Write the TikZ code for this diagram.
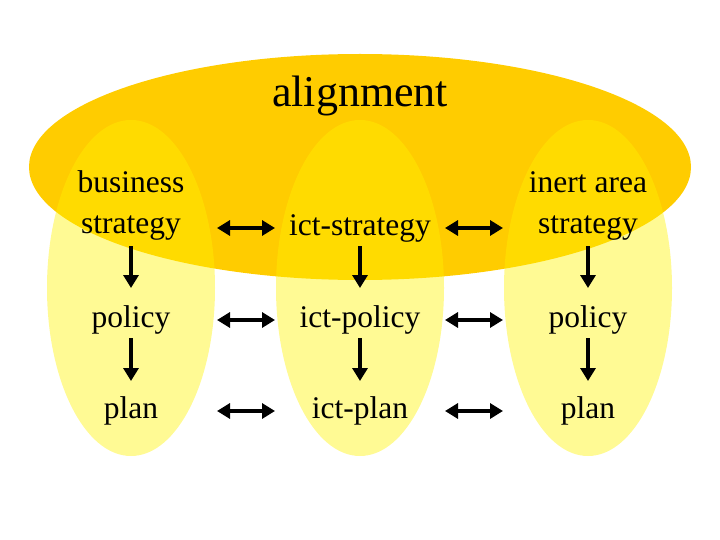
\documentclass[tikz,border=0pt]{standalone}
\usepackage{fontspec}
\setmainfont{Liberation Serif}
\usetikzlibrary{arrows.meta}
\begin{document}
\begin{tikzpicture}[x=1pt,y=-1pt,
  lbl/.style={font=\fontsize{31.5}{36}\selectfont, align=center, inner sep=0pt},
  col/.style={fill=yellow, fill opacity=0.42, draw=none},
  va/.style={line width=3.5pt, -{Triangle[length=13pt,width=15pt]}},
  ha/.style={line width=3.5pt, {Triangle[length=13pt,width=15pt]}-{Triangle[length=13pt,width=15pt]}}]
\useasboundingbox (0,0) rectangle (720,540);
\fill[fill={rgb,255:red,255;green,204;blue,0}] (360,167) ellipse [x radius=331, y radius=113];
\fill[col] (131,288) ellipse [x radius=84, y radius=168];
\fill[col] (360,288) ellipse [x radius=84, y radius=168];
\fill[col] (588,288) ellipse [x radius=84, y radius=168];
\node[lbl, font=\fontsize{44}{50}\selectfont] (al) at (360,96) {alignment};
\node[lbl] (bs1) at (131,182) {business};
\node[lbl] (bs) at (131,228) {strategy};
\node[lbl] (is) at (360,228) {ict-strategy};
\node[lbl] (ia1) at (588,182) {inert area};
\node[lbl] (ia) at (588,228) {strategy};
\node[lbl] (p1) at (131,320) {policy};
\node[lbl] (p2) at (360,320) {ict-policy};
\node[lbl] (p3) at (588,320) {policy};
\node[lbl] (l1) at (131,411) {plan};
\node[lbl] (l2) at (360,411) {ict-plan};
\node[lbl] (l3) at (588,411) {plan};
\foreach \a/\b/\x in {bs/p1/131,is/p2/360,ia/p3/588}{
  \draw[va] (\a.center |- 0,246) -- (\b.center |- 0,288);
}
\foreach \a/\b/\x in {p1/l1/131,p2/l2/360,p3/l3/588}{
  \draw[va] (\a.center |- 0,338) -- (\b.center |- 0,381);
}
\foreach \y in {228,320,411}{
  \coordinate (h1) at (217,\y); \coordinate (h2) at (275,\y);
  \coordinate (h3) at (445,\y); \coordinate (h4) at (503,\y);
  \draw[ha] (h1) -- (h2);
  \draw[ha] (h3) -- (h4);
}
\end{tikzpicture}
\end{document}
